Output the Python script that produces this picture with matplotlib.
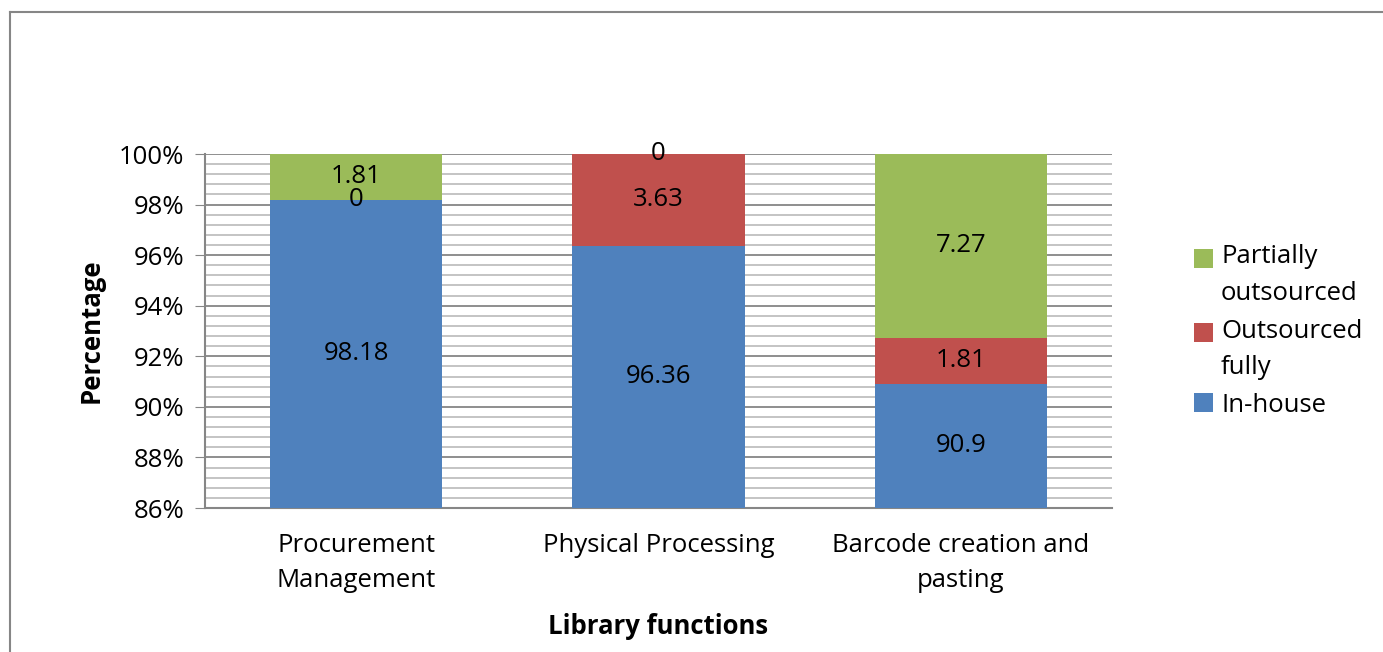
import numpy as np
import matplotlib
matplotlib.use("Agg")
import matplotlib.pyplot as plt
from matplotlib.lines import Line2D
from matplotlib.patches import Patch, Rectangle
from matplotlib.legend_handler import HandlerPatch
from matplotlib.ticker import MultipleLocator, FuncFormatter

plt.rcParams['font.family'] = ['Open Sans', 'DejaVu Sans']

functions = ["Procurement\nManagement", "Physical Processing", "Barcode creation and\npasting"]
in_house = [98.18, 96.36, 90.9]
outsourced_fully = [0, 3.63, 1.81]
partially_outsourced = [1.81, 0, 7.27]

series = [
    ("In-house", in_house, "#4F81BD"),
    ("Outsourced\nfully", outsourced_fully, "#C0504D"),
    ("Partially\noutsourced", partially_outsourced, "#9BBB59"),
]

FS = 18.5
YMIN, YMAX = 86, 100

fig = plt.figure(figsize=(13.83, 6.52), dpi=100)
ax = fig.add_axes([205 / 1383, 1 - 508 / 652, (1112 - 205) / 1383, (508 - 154) / 652])

x = np.arange(len(functions))
totals = np.sum([s[1] for s in series], axis=0)
bottom = np.zeros(len(functions))
for name, vals, color in series:
    pct = np.array(vals) / totals * 100
    ax.bar(x, pct, width=0.57, bottom=bottom, color=color, label=name, zorder=3)
    for xi, bi, hi, v in zip(x, bottom, pct, vals):
        # label sits in the middle of the visible part of the segment
        lo = max(bi, YMIN)
        hi_top = min(bi + hi, YMAX)
        ax.text(xi, (lo + hi_top) / 2, f"{v:g}", ha="center", va="center",
                fontsize=FS, color="black", zorder=4)
    bottom += pct

ax.set_xlim(-0.5, 2.5)
ax.set_ylim(YMIN, YMAX)
ax.yaxis.set_major_locator(MultipleLocator(2))
ax.yaxis.set_minor_locator(MultipleLocator(0.4))
ax.yaxis.set_major_formatter(FuncFormatter(lambda v, p: f"{v:.0f}%"))
ax.grid(axis="y", which="major", color="#868686", lw=1.3, zorder=0)
ax.grid(axis="y", which="minor", color="#BFBFBF", lw=1.3, zorder=0)
ax.tick_params(axis="y", which="major", length=7, color="#868686", labelsize=FS, pad=8)
ax.tick_params(axis="y", which="minor", length=0)
ax.tick_params(axis="x", length=0, labelsize=FS, pad=18)
ax.set_xticks(x)
ax.set_xticklabels(functions, linespacing=1.55)

for s in ["top", "right"]:
    ax.spines[s].set_visible(False)
for s in ["left", "bottom"]:
    ax.spines[s].set_color("#868686")
    ax.spines[s].set_linewidth(1.5)

ax.set_ylabel("Percentage", fontsize=FS, fontweight="bold", labelpad=10)
ax.set_xlabel("Library functions", fontsize=FS, fontweight="bold", labelpad=14)


# legend squares line up with the first line of two-line labels
def square_patch(shift):
    def make(legend, orig_handle, xdescent, ydescent, width, height, fontsize):
        return Rectangle((-xdescent, -ydescent + shift), width, height)
    return make


proxies = []
hmap = {}
for name, vals, color in series[::-1]:
    p = Patch(facecolor=color, label=name)
    proxies.append(p)
    hmap[p] = HandlerPatch(patch_func=square_patch(12.5 if "\n" in name else 0))

leg = ax.legend(handles=proxies, handler_map=hmap, loc="center left",
                bbox_to_anchor=(1.065, 0.5), frameon=False, fontsize=FS,
                handlelength=0.75, handleheight=0.75, handletextpad=0.3,
                labelspacing=0.5)
for t in leg.get_texts():
    t.set_linespacing(1.6)

# outer frame (top and left edges)
fig.add_artist(Line2D([10 / 1383, 1382 / 1383], [1 - 12 / 652, 1 - 12 / 652],
                      transform=fig.transFigure, color="#868686", lw=1.5))
fig.add_artist(Line2D([10 / 1383, 10 / 1383], [1 - 12 / 652, 0],
                      transform=fig.transFigure, color="#868686", lw=1.5))

fig.savefig("out.png", dpi=100)
